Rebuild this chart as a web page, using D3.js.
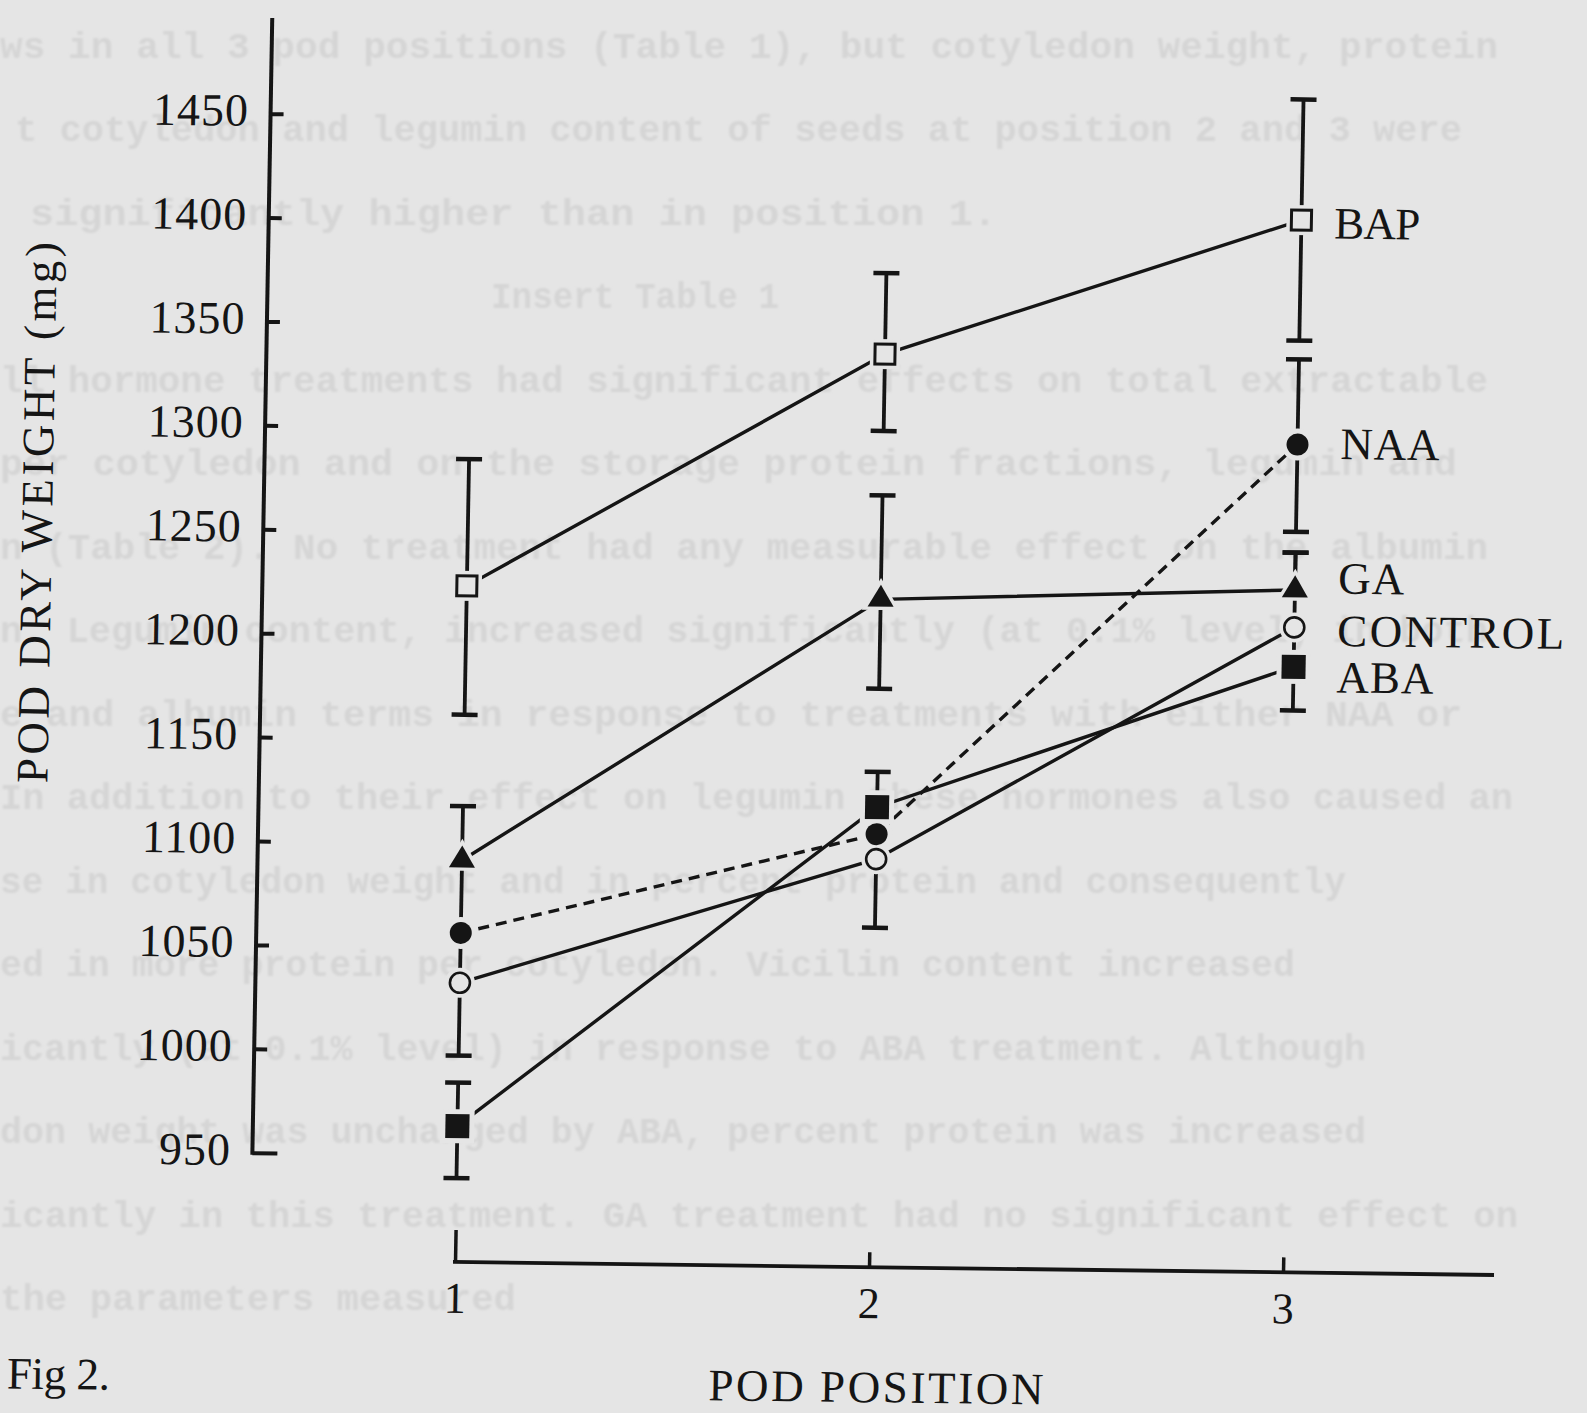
<!DOCTYPE html>
<html><head><meta charset="utf-8">
<script src="https://cdn.jsdelivr.net/npm/d3@7"></script>
<style>
html,body{margin:0;padding:0;background:#e5e5e5;}
svg{display:block;}
</style>
</head><body>
<svg id="chart" width="1587" height="1413"></svg>
<script>
// ---------------- data ----------------
const positions = [1, 2, 3];
const xTickLabels = ["1", "2", "3"];
const yTicks = [950, 1000, 1050, 1100, 1150, 1200, 1250, 1300, 1350, 1400, 1450];
const seriesNames = ["BAP", "NAA", "GA", "CONTROL", "ABA"];
const bapValues = [1224, 1338, 1405];
const naaValues = [1057, 1107, 1297];
const gaValues = [1092, 1220, 1227];
const controlValues = [1033, 1095, 1209];
const abaValues = [964, 1120, 1190];
// error bar extents above / below the mean (null = no bar drawn for that point)
const bapErrHi = [61, 39, 58];
const bapErrLo = [62, 37, 58];
const naaErrHi = [null, null, 41];
const naaErrLo = [null, null, 42];
const gaErrHi = [26, 50, 18];
const gaErrLo = [94, 43, null];
const controlErrHi = [null, null, null];
const controlErrLo = [null, null, null];
const abaErrHi = [21, 17, 55];
const abaErrLo = [25, 58, 21];
const xTitle = "POD POSITION";
const yTitle = "POD DRY WEIGHT (mg)";
const figLabel = "Fig 2.";
// faint show-through text of the scanned page
const pageLines = [
  "ws in all 3 pod positions (Table 1), but cotyledon weight, protein",
  "t cotyledon and legumin content of seeds at position 2 and 3 were",
  "significantly higher than in position 1.",
  "Insert Table 1",
  "ll hormone treatments had significant effects on total extractable",
  "per cotyledon and on the storage protein fractions, legumin and",
  "n (Table 2). No treatment had any measurable effect on the albumin",
  "n. Legumin content, increased significantly (at 0.1% level) in both",
  "e and albumin terms in response to treatments with either NAA or",
  "In addition to their effect on legumin these hormones also caused an",
  "se in cotyledon weight and in percent protein and consequently",
  "ed in more protein per cotyledon. Vicilin content increased",
  "icantly (at 0.1% level) in response to ABA treatment. Although",
  "don weight was unchanged by ABA, percent protein was increased",
  "icantly in this treatment. GA treatment had no significant effect on",
  "the parameters measured"
];

// ---------------- drawing ----------------
const BG = "#e5e5e5", INK = "#151515", GHOST = "#d5d5d5";
const svg = d3.select("#chart");
const defs = svg.append("defs");
defs.append("filter").attr("id", "soft").append("feGaussianBlur").attr("stdDeviation", 0.9);
svg.append("rect").attr("width", 1587).attr("height", 1413).attr("fill", BG);

// ghost text
const ghostSpan = [[0,1498],[15,1462],[30,997],[491,779],[0,1488],[0,1457],[0,1488],[0,1488],
                   [0,1462],[0,1513],[0,1346],[0,1295],[0,1366],[0,1366],[0,1518],[0,516]];
svg.append("g").attr("filter", "url(#soft)").selectAll("text").data(pageLines).join("text")
  .attr("x", (d,i) => ghostSpan[i][0])
  .attr("y", (d,i) => 45.5 + i * 83.5 + 12)
  .attr("textLength", (d,i) => ghostSpan[i][1] - ghostSpan[i][0])
  .attr("lengthAdjust", "spacingAndGlyphs")
  .attr("font-family", "Liberation Mono, DejaVu Sans Mono, monospace")
  .attr("font-weight", "bold")
  .attr("font-size", 37)
  .attr("fill", GHOST)
  .text(d => d);

// slightly skewed group (scan tilt)
const g = svg.append("g").attr("transform", "matrix(1,0.0125,-0.0175,1,22.1,-5.69)");

const x = d3.scaleLinear().domain([1, 3]).range([455, 1283]);
const y = d3.scaleLinear().domain([950, 1450]).range([1155.3, 116.2]);

const series = [
  {name: "BAP", values: bapValues, hi: bapErrHi, lo: bapErrLo, dash: null},
  {name: "NAA", values: naaValues, hi: naaErrHi, lo: naaErrLo, dash: "11,7"},
  {name: "GA", values: gaValues, hi: gaErrHi, lo: gaErrLo, dash: null},
  {name: "CONTROL", values: controlValues, hi: controlErrHi, lo: controlErrLo, dash: null},
  {name: "ABA", values: abaValues, hi: abaErrHi, lo: abaErrLo, dash: null}
];

// lines
const line = d3.line().x((d,i) => x(positions[i])).y(d => y(d));
g.append("g").selectAll("path").data(series).join("path")
  .attr("d", s => line(s.values))
  .attr("fill", "none")
  .attr("stroke", INK)
  .attr("stroke-width", 3.4)
  .attr("stroke-dasharray", s => s.dash);

// error bars
const bars = [];
series.forEach(s => s.values.forEach((v, i) => {
  if (s.hi[i] != null || s.lo[i] != null) {
    bars.push({p: positions[i], top: v + (s.hi[i] || 0), bot: v - (s.lo[i] || 0), capTop: s.hi[i] != null, capBot: s.lo[i] != null});
  }
}));
const eb = g.append("g").attr("stroke", INK);
eb.selectAll("line.v").data(bars).join("line").attr("class", "v")
  .attr("x1", d => x(d.p)).attr("x2", d => x(d.p))
  .attr("y1", d => y(d.top)).attr("y2", d => y(d.bot))
  .attr("stroke-width", 3.8);
eb.selectAll("line.ct").data(bars.filter(d => d.capTop)).join("line").attr("class", "ct")
  .attr("x1", d => x(d.p) - 13).attr("x2", d => x(d.p) + 13)
  .attr("y1", d => y(d.top)).attr("y2", d => y(d.top))
  .attr("stroke-width", 4.5);
eb.selectAll("line.cb").data(bars.filter(d => d.capBot)).join("line").attr("class", "cb")
  .attr("x1", d => x(d.p) - 13).attr("x2", d => x(d.p) + 13)
  .attr("y1", d => y(d.bot)).attr("y2", d => y(d.bot))
  .attr("stroke-width", 4.5);

// markers
const pts = [];
series.forEach(s => s.values.forEach((v, i) => pts.push({name: s.name, p: positions[i], v})));
function shape(sel, pad, isHalo) {
  sel.each(function(d) {
    const el = d3.select(this);
    const cx = x(d.p), cy = y(d.v);
    let node;
    if (d.name === "BAP" || d.name === "ABA") {
      const s = (d.name === "BAP" ? 20 : 24) + 2 * pad;
      node = el.append("rect").attr("x", cx - s/2).attr("y", cy - s/2).attr("width", s).attr("height", s);
    } else if (d.name === "NAA" || d.name === "CONTROL") {
      const r = (d.name === "NAA" ? 11 : 10) + pad;
      node = el.append("circle").attr("cx", cx).attr("cy", cy).attr("r", r);
    } else {
      const h = 22 + 2 * pad, w = 26 + 2.4 * pad;
      node = el.append("path").attr("d", `M${cx},${cy - h*2/3}L${cx + w/2},${cy + h/3}L${cx - w/2},${cy + h/3}Z`);
    }
    if (isHalo) node.attr("fill", BG);
    else if (d.name === "BAP") node.attr("fill", BG).attr("stroke", INK).attr("stroke-width", 3);
    else if (d.name === "CONTROL") node.attr("fill", BG).attr("stroke", INK).attr("stroke-width", 2.6);
    else node.attr("fill", INK);
  });
}
g.append("g").selectAll("g").data(pts).join("g").call(sel => shape(sel, 5, true));
g.append("g").selectAll("g").data(pts).join("g").call(sel => shape(sel, 0, false));

// series labels at position 3
const labelOff = {BAP: [33, 18], NAA: [43, 14], GA: [43, 3], CONTROL: [43, 18], ABA: [43, 25]};
const labelLen = {BAP: 86, NAA: 99, GA: 66, CONTROL: 227, ABA: 97};
g.append("g").selectAll("text").data(series).join("text")
  .attr("x", s => x(positions[2]) + labelOff[s.name][0])
  .attr("y", s => y(s.values[2]) + labelOff[s.name][1])
  .attr("textLength", s => labelLen[s.name])
  .attr("lengthAdjust", "spacing")
  .attr("font-family", "Liberation Serif, Times New Roman, serif")
  .attr("font-size", 45)
  .attr("fill", INK)
  .text(s => s.name);

// y axis
const yAxis = d3.axisLeft(y).tickValues(yTicks).tickFormat(d3.format("d"))
  .tickSizeInner(-13).tickSizeOuter(0).tickPadding(21.5);
const ya = g.append("g").attr("transform", "translate(250.5,0)").call(yAxis);
ya.select(".domain").remove();
ya.selectAll(".tick line").attr("stroke", INK).attr("stroke-width", 4)
  .filter(d => d === 950).attr("x2", 25);
ya.selectAll(".tick text").attr("font-family", "Liberation Serif, Times New Roman, serif")
  .attr("font-size", 46).attr("fill", INK).attr("dy", 12).attr("letter-spacing", 1);
ya.append("line").attr("x1", 0).attr("x2", 0).attr("y1", 20.6).attr("y2", y(950) + 2)
  .attr("stroke", INK).attr("stroke-width", 4);

// x axis
const xAxis = d3.axisBottom(x).tickValues(positions).tickFormat((d,i) => xTickLabels[i])
  .tickSizeInner(-15).tickSizeOuter(0).tickPadding(0);
const xa = g.append("g").attr("transform", "translate(0,1262)").call(xAxis);
xa.select(".domain").remove();
xa.selectAll(".tick line").attr("stroke", INK).attr("stroke-width", 3.5)
  .filter(d => d === 1).attr("y2", -32);
xa.selectAll(".tick text").attr("font-family", "Liberation Serif, Times New Roman, serif")
  .attr("font-size", 44).attr("fill", INK).attr("y", 51).attr("dy", 0);
xa.append("line").attr("x1", x(1) - 2).attr("x2", x(3.5) + 4).attr("y1", 0).attr("y2", 0)
  .attr("stroke", INK).attr("stroke-width", 3.8);

// titles
g.append("text").attr("x", 878).attr("y", 1397).attr("text-anchor", "middle")
  .attr("textLength", 335).attr("lengthAdjust", "spacing")
  .attr("font-family", "Liberation Serif, Times New Roman, serif").attr("font-size", 45)
  .attr("fill", INK).text(xTitle);
g.append("text").attr("transform", "translate(39,518) rotate(-90)").attr("text-anchor", "middle")
  .attr("textLength", 541).attr("lengthAdjust", "spacing")
  .attr("font-family", "Liberation Serif, Times New Roman, serif").attr("font-size", 45)
  .attr("fill", INK).text(yTitle);
g.append("text").attr("x", 9).attr("y", 1394).attr("textLength", 103).attr("lengthAdjust", "spacing")
  .attr("font-family", "Liberation Serif, Times New Roman, serif").attr("font-size", 45)
  .attr("fill", INK).text(figLabel);
</script>
</body></html>
